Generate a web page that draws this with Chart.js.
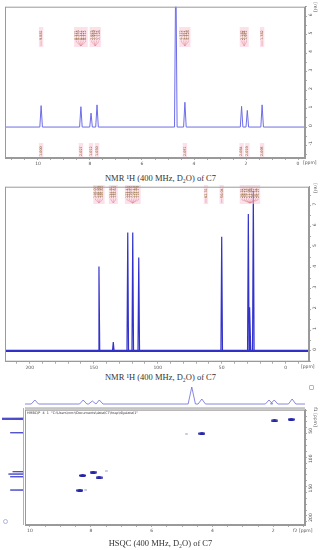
<!DOCTYPE html>
<html>
<head>
<meta charset="utf-8">
<script src="https://cdn.jsdelivr.net/npm/chart.js@4.4.0/dist/chart.umd.min.js"></script>
<style>
  html, body { margin: 0; padding: 0; background: #fff; }
  body { width: 321px; height: 550px; position: relative; overflow: hidden; }
  canvas { position: absolute; }
  .cap { position: absolute; left: 0; width: 321px; text-align: center; font-family: "Liberation Serif", "DejaVu Serif", serif; font-size: 8.5px; line-height: 10px; color: #333; }
  .mark { position: absolute; width: 3px; height: 3px; border: 1px solid #aab4dc; border-radius: 1px; }
</style>
</head>
<body>
<canvas id="h1" width="321" height="170" style="left:0;top:0"></canvas>
<div class="cap" style="top:173px">NMR ¹H (400 MHz, D₂O) of C7</div>
<canvas id="c13" width="321" height="192" style="left:0;top:180px"></canvas>
<div class="cap" style="top:372px">NMR ¹H (400 MHz, D₂O) of C7</div>
<canvas id="proj" width="321" height="28" style="left:0;top:379px"></canvas>
<canvas id="side" width="25" height="122" style="left:0;top:405px"></canvas>
<canvas id="hsqc" width="321" height="134" style="left:0;top:403px"></canvas>
<div class="cap" style="top:538px">HSQC (400 MHz, D₂O) of C7</div>
<div class="mark" style="left:309px;top:385px"></div>
<div class="mark" style="left:3px;top:519px;border-radius:3px"></div>
<script>
// 1H spectrum (ppm, relative intensity)
const h1Shift = [9.88, 8.35, 7.96, 7.73, 4.70, 4.35, 2.17, 1.95, 1.38];
const h1Height = [1.16, 1.10, 0.75, 1.20, 9.0, 1.34, 1.12, 0.90, 1.20];
// peak pick labels above the 1H peaks
const h1PickAt = [9.88, 8.35, 7.80, 4.35, 2.07, 1.38];
const h1Picks = [
  ["9.881"],
  ["8.371", "8.356", "8.341", "8.327", "8.312"],
  ["7.973", "7.959", "7.742", "7.728"],
  ["4.372", "4.357", "4.343", "4.328"],
  ["2.182", "2.164", "1.951"],
  ["1.382"]
];
// integrals under the 1H peaks
const h1IntAt = [9.88, 8.35, 7.96, 7.73, 4.35, 2.17, 1.95, 1.38];
const h1Int = ["1.000", "2.027", "1.012", "1.030", "2.051", "2.084", "2.019", "2.095"];

// 13C spectrum
const c13Shift = [145.9, 134.7, 123.4, 119.5, 114.8, 50.0, 29.2, 27.9, 25.3];
const c13Height = [4.07, 0.43, 5.7, 5.7, 4.5, 5.5, 6.6, 2.1, 7.7];
const c13PickAt = [145.9, 134.7, 119.5, 62.3, 50.0, 27.9];
const c13Picks = [
  ["146.02", "145.96", "145.90", "145.84"],
  ["134.81", "134.72", "134.63"],
  ["123.45", "123.38", "119.56", "119.49", "114.86", "114.79"],
  ["62.31"],
  ["50.04"],
  ["29.31", "29.22", "29.14", "27.95", "27.88", "25.42", "25.34", "25.27"]
];

// HSQC cross peaks (f2 = 1H, f1 = 13C)
const hsqcH = [8.36, 8.27, 7.92, 7.73, 4.35, 1.96, 1.41];
const hsqcC = [146.3, 121.1, 115.4, 125.0, 50.0, 28.2, 25.5];
const hsqcWeakH = [7.50, 8.16, 4.85];
const hsqcWeakC = [113.0, 146.3, 50.0];
// projections
const projHShift = [9.84, 8.25, 7.95, 7.72, 4.68, 4.35, 2.14, 1.97, 1.38];
const projHHeight = [4, 4, 3, 4, 17, 5, 4, 4, 5];
const projCShift = [26.5, 28.2, 50.7, 116.0, 120.0, 124.5, 146.8];
const projCHeight = [21, 21, 13, 10.6, 14.7, 13, 13];

const tickFont = { size: 4.5, family: 'DejaVu Sans' };
const onStep = (v, s) => Math.abs(v / s - Math.round(v / s)) < 1e-6;

function sticks(shifts, heights, hw, from, to) {
  const pts = [{ x: from, y: 0 }];
  const order = shifts.map((s, i) => i).sort((a, b) => shifts[b] - shifts[a]);
  order.forEach(i => {
    pts.push({ x: shifts[i] + hw, y: 0 }, { x: shifts[i], y: heights[i] }, { x: shifts[i] - hw, y: 0 });
  });
  pts.push({ x: to, y: 0 });
  return pts;
}

function xAxis(min, max, step, major, h) {
  return {
    type: 'linear', reverse: true, min: min, max: max,
    afterBuildTicks: s => { s.ticks = s.ticks.filter(t => onStep(t.value, step)); },
    afterFit: s => { s.height = h; },
    ticks: { stepSize: step, includeBounds: false, autoSkip: false, maxRotation: 0, color: '#555', font: tickFont, padding: 1,
      callback: v => onStep(v, major) ? String(Math.round(v)) : '' },
    grid: { display: true, drawOnChartArea: false, tickLength: 2, color: '#aaa' },
    border: { display: true, color: '#999' }
  };
}

function yAxis(min, max, step, major, w, rev) {
  return {
    type: 'linear', position: 'right', min: min, max: max, reverse: !!rev,
    afterBuildTicks: s => { s.ticks = s.ticks.filter(t => onStep(t.value, step)); },
    afterFit: s => { s.width = w; },
    ticks: { stepSize: step, includeBounds: false, autoSkip: false, color: '#555', font: tickFont, padding: 4,
      minRotation: 90, maxRotation: 90,
      callback: v => onStep(v, major) ? String(Math.round(v)) : '' },
    grid: { display: true, drawOnChartArea: false, tickLength: 2, color: '#aaa' },
    border: { display: true, color: '#999' }
  };
}

const frame = {
  id: 'frame',
  afterDraw(chart) {
    const a = chart.chartArea, ctx = chart.ctx;
    ctx.save();
    ctx.strokeStyle = '#9a9a9a';
    ctx.lineWidth = 1;
    ctx.strokeRect(a.left + 0.5, a.top + 0.5, a.right - a.left - 1, a.bottom - a.top - 1);
    ctx.restore();
  }
};

function labelPlugin(id, at, groups, yTop, yBot, conn) {
  return {
    id: id,
    afterDatasetsDraw(chart) {
      const ctx = chart.ctx, xs = chart.scales.x, s = 2.3;
      ctx.save();
      ctx.font = '3.4px "DejaVu Sans"';
      ctx.textBaseline = 'middle';
      at.forEach((p, gi) => {
        const cx = xs.getPixelForValue(p);
        const labs = groups[gi], n = labs.length;
        const x0 = cx - (n - 1) / 2 * s;
        ctx.fillStyle = 'rgba(250, 200, 218, 0.55)';
        ctx.fillRect(x0 - 2.2, yTop - 1, (n - 1) * s + 4.4, yBot - yTop + conn + 2);
        labs.forEach((t, i) => {
          const lx = x0 + i * s;
          ctx.save();
          ctx.translate(lx, yBot);
          ctx.rotate(-Math.PI / 2);
          ctx.fillStyle = '#7a5418';
          ctx.fillText(t, 0, 0);
          ctx.restore();
          if (conn > 0) {
            ctx.strokeStyle = '#de7f8c';
            ctx.lineWidth = 0.5;
            ctx.beginPath();
            ctx.moveTo(lx, yBot + 0.5);
            ctx.lineTo(lx, yBot + 1.8);
            ctx.lineTo(cx, yBot + conn);
            ctx.stroke();
          }
        });
      });
      ctx.restore();
    }
  };
}

function notes(id, list) {
  return {
    id: id,
    afterDraw(chart) {
      const ctx = chart.ctx;
      ctx.save();
      ctx.fillStyle = '#555';
      ctx.font = '4.5px "DejaVu Sans"';
      ctx.textBaseline = 'middle';
      list.forEach(n => {
        ctx.save();
        ctx.translate(n.x, n.y);
        if (n.rot) ctx.rotate(Math.PI / 2);
        ctx.textAlign = n.rot ? 'center' : 'left';
        ctx.fillText(n.t, 0, 0);
        ctx.restore();
      });
      ctx.restore();
    }
  };
}

const baseOpts = (pad, scales) => ({
  responsive: false, animation: false, events: [],
  layout: { padding: pad },
  plugins: { legend: { display: false }, tooltip: { enabled: false } },
  scales: scales
});

// ---- 1H ----
new Chart(document.getElementById('h1'), {
  type: 'scatter',
  data: { datasets: [{
    data: sticks(h1Shift, h1Height, 0.05, 11.269, -0.269),
    showLine: true, pointRadius: 0, borderColor: '#6d6de8', borderWidth: 1, tension: 0
  }] },
  options: baseOpts({ left: 5, top: 5, right: 0, bottom: 0 }, {
    x: xAxis(-0.269, 11.269, 0.5, 2, 12),
    y: yAxis(-1.674, 6.51, 0.5, 1, 16)
  }),
  plugins: [frame,
    labelPlugin('picks1', h1PickAt, h1Picks, 28, 40, 6),
    labelPlugin('ints1', h1IntAt, h1Int.map(t => [t]), 144, 156, 0),
    notes('n1', [{ t: '[ppm]', x: 303, y: 163 }, { t: '[rel]', x: 315, y: 7, rot: true }])]
});

// ---- 13C ----
new Chart(document.getElementById('c13'), {
  type: 'scatter',
  data: { datasets: [{
    data: sticks(c13Shift, c13Height, 0.6, 219.3, -18.2),
    showLine: true, pointRadius: 0, borderColor: '#3333cc', borderWidth: 1.2, tension: 0
  }, {
    data: [{ x: 219.3, y: 0 }, { x: -18.2, y: 0 }],
    showLine: true, pointRadius: 0, borderColor: '#2f2fc4', borderWidth: 2.4
  }] },
  options: baseOpts({ left: 5, top: 4, right: 0, bottom: 0 }, {
    x: xAxis(-18.2, 219.3, 10, 50, 10.3),
    y: yAxis(-0.522, 7.91, 0.5, 1, 12)
  }),
  plugins: [frame,
    labelPlugin('picks2', c13PickAt, c13Picks, 6, 18, 5),
    notes('n2', [{ t: '[ppm]', x: 301, y: 187 }, { t: '[rel]', x: 315, y: 8, rot: true }])]
});

// ---- HSQC top projection ----
new Chart(document.getElementById('proj'), {
  type: 'scatter',
  data: { datasets: [{
    data: sticks(projHShift, projHHeight, 0.12, 10.164, 0.957),
    showLine: true, pointRadius: 0, borderColor: '#6b6bd8', borderWidth: 0.8, tension: 0
  }] },
  options: baseOpts({ left: 25, top: 4, right: 16, bottom: 2 }, {
    x: { type: 'linear', reverse: true, min: 0.957, max: 10.164, display: false },
    y: { type: 'linear', min: -1, max: 21, display: false }
  })
});

// ---- HSQC left projection (13C) ----
new Chart(document.getElementById('side'), {
  type: 'scatter',
  data: { datasets: [{
    data: sticks(projCShift, projCHeight, 0.4, 205.4, 9.2).map(p => ({ x: p.y, y: p.x })),
    showLine: true, pointRadius: 0, borderColor: '#4545c6', borderWidth: 0.9, tension: 0
  }] },
  options: baseOpts({ left: 1, top: 3, right: 1.5, bottom: 2 }, {
    x: { type: 'linear', reverse: true, min: 0, max: 22, display: false },
    y: { type: 'linear', reverse: true, min: 9.2, max: 205.4, display: false }
  })
});

// ---- HSQC map ----
function blob(w, h, col) {
  const c = document.createElement('canvas');
  c.width = w; c.height = h;
  const g = c.getContext('2d');
  g.fillStyle = col;
  g.beginPath();
  g.ellipse(w / 2, h / 2, w / 2, h / 2, 0, 0, Math.PI * 2);
  g.fill();
  return c;
}

const hsqcDecor = {
  id: 'hsqcDecor',
  afterDraw(chart) {
    const a = chart.chartArea, ctx = chart.ctx;
    ctx.save();
    ctx.fillStyle = '#c4c4c4';
    ctx.fillRect(a.left, a.top - 2.5, a.right - a.left, 2.5);
    ctx.fillStyle = '#333';
    ctx.font = '3.4px "DejaVu Sans"';
    ctx.textBaseline = 'middle';
    ctx.fillText('HMBC/P  4  1  "C:\\Users\\nmr\\Documents\\data\\C7\\hsqc\\4\\pdata\\1"', a.left + 2, a.top + 3.5);
    ctx.restore();
  }
};

new Chart(document.getElementById('hsqc'), {
  type: 'scatter',
  data: { datasets: [{
    data: hsqcH.map((h, i) => ({ x: h, y: hsqcC[i] })),
    pointStyle: blob(7, 3, '#2424a6'), pointRadius: 3
  }, {
    data: hsqcWeakH.map((h, i) => ({ x: h, y: hsqcWeakC[i] })),
    pointStyle: blob(3, 2, 'rgba(150, 150, 205, 0.6)'), pointRadius: 2
  }] },
  options: baseOpts({ left: 25, top: 5, right: 0, bottom: 0 }, {
    x: xAxis(0.957, 10.164, 0.5, 2, 12),
    y: yAxis(9.2, 205.4, 10, 50, 16, true)
  }),
  plugins: [frame, hsqcDecor,
    notes('n3', [{ t: 'f2 [ppm]', x: 293, y: 128 }, { t: 'f1 [ppm]', x: 315, y: 14, rot: true }])]
});
</script>
</body>
</html>
